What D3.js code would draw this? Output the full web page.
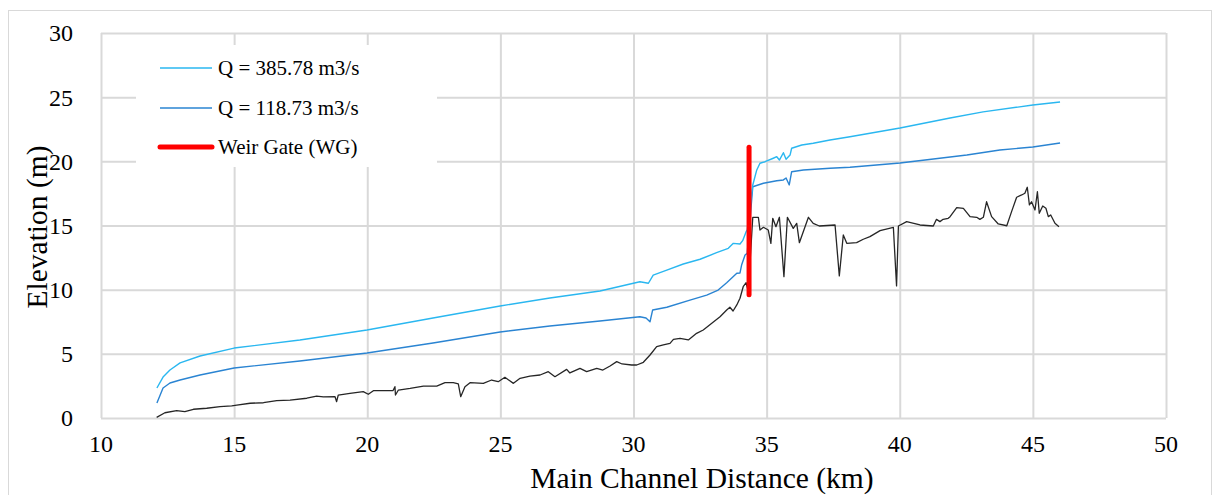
<!DOCTYPE html>
<html>
<head>
<meta charset="utf-8">
<script src="https://cdn.jsdelivr.net/npm/d3@7"></script>
<style>
  html, body { margin: 0; padding: 0; background: #fff; }
  svg { display: block; }
  text { font-family: "Liberation Serif", "Times New Roman", serif; fill: #000; }
</style>
</head>
<body>
<svg id="chart" width="1214" height="495"></svg>
<script>
// ---- data ----
const xTicks = [10, 15, 20, 25, 30, 35, 40, 45, 50];
const yTicks = [0, 5, 10, 15, 20, 25, 30];

const seriesNames = ["Q = 385.78 m3/s", "Q = 118.73 m3/s", "Weir Gate (WG)"];

// Water surface, Q = 385.78 m3/s
const q385Dist = [12.10,12.33,12.59,12.97,13.72,15.00,17.47,19.99,22.47,24.99,26.86,28.74,30.24,30.56,30.74,31.25,31.87,32.50,33.12,33.56,33.75,34.00,34.10,34.23,34.27,
  34.48,34.63,34.75,34.94,35.25,35.38,35.48,35.63,35.73,35.88,35.94,36.32,36.75,37.38,38.13,40.01,41.89,43.13,45.00,46.02];
const q385Elev = [2.34,3.19,3.74,4.29,4.83,5.45,6.08,6.86,7.79,8.73,9.35,9.90,10.62,10.50,11.14,11.53,12.00,12.37,12.88,13.22,13.61,13.56,13.82,14.52,14.65,
  18.16,19.33,19.85,19.97,20.24,20.36,20.10,20.67,20.16,20.49,21.02,21.27,21.41,21.66,21.92,22.60,23.38,23.85,24.39,24.62];

// Water surface, Q = 118.73 m3/s
const q118Dist = [12.10,12.33,12.59,12.97,13.72,15.00,17.47,19.99,22.47,24.99,26.86,28.74,30.24,30.47,30.62,30.72,31.25,32.12,32.75,33.18,33.50,33.88,34.00,34.06,34.19,34.27,
  34.48,34.88,35.38,35.63,35.73,35.85,35.94,36.38,37.38,38.13,40.01,42.52,43.76,45.00,46.02];
const q118Elev = [1.17,2.34,2.73,2.96,3.35,3.90,4.44,5.06,5.84,6.70,7.17,7.56,7.89,7.79,7.50,8.42,8.63,9.19,9.58,9.97,10.54,11.28,11.30,11.92,12.70,12.83,
  18.02,18.29,18.49,18.55,18.70,18.16,19.19,19.32,19.46,19.54,19.87,20.49,20.88,21.12,21.43];

// Channel bed
const bedDist = [12.09,12.40,12.84,13.15,13.47,13.97,14.47,14.91,15.10,15.60,16.10,16.60,17.10,17.73,18.10,18.35,18.79,18.85,18.91,19.35,19.85,20.04,20.23,20.60,20.97,21.04,21.06,21.17,21.61,22.11,22.61,22.92,23.23,23.42,23.51,23.67,23.86,24.36,24.67,24.92,25.17,25.49,25.74,26.11,26.49,26.80,27.05,27.49,27.61,27.99,28.24,28.62,28.85,29.12,29.37,29.57,29.93,30.12,30.37,30.62,30.87,31.12,31.37,31.50,31.75,32.06,32.37,32.62,32.94,33.25,33.50,33.62,33.74,33.88,34.00,34.12,34.23,34.31,
  34.48,34.69,34.75,34.88,35.06,35.16,35.23,35.35,35.48,35.65,35.78,36.00,36.13,36.23,36.57,36.75,36.98,37.57,37.73,37.88,38.01,38.38,38.63,38.88,39.26,39.76,39.88,39.95,40.26,40.76,41.26,41.38,41.51,41.63,41.82,41.89,42.14,42.39,42.64,42.89,43.01,43.14,43.26,43.45,43.70,44.02,44.20,44.39,44.58,44.70,44.79,44.87,44.95,45.08,45.17,45.24,45.37,45.49,45.58,45.67,45.83,45.98];
const bedElev = [0.05,0.41,0.57,0.49,0.68,0.76,0.88,0.94,1.01,1.15,1.19,1.35,1.40,1.54,1.71,1.64,1.66,1.27,1.79,1.92,2.05,1.85,2.13,2.13,2.14,2.44,1.79,2.18,2.31,2.49,2.49,2.75,2.75,2.65,1.66,2.44,2.75,2.70,2.96,2.83,3.17,2.70,3.09,3.27,3.35,3.61,3.22,3.79,3.51,3.87,3.61,3.87,3.74,4.05,4.39,4.21,4.13,4.13,4.34,4.91,5.56,5.69,5.82,6.13,6.21,6.08,6.60,6.86,7.38,7.89,8.42,8.63,8.34,8.81,9.33,10.23,10.54,9.84,
  15.64,15.64,14.65,14.86,14.65,13.61,15.56,14.91,15.64,11.01,15.64,14.78,15.17,13.66,15.64,15.17,14.96,15.04,11.07,14.26,13.61,13.66,13.93,14.13,14.60,14.86,10.29,14.96,15.30,15.04,14.96,15.48,15.30,15.48,15.56,15.69,16.39,16.34,15.69,15.64,15.48,15.64,16.85,15.69,15.12,14.98,16.08,17.20,17.38,17.51,17.98,16.60,16.85,16.21,17.63,15.95,16.52,16.34,15.69,15.82,15.17,14.91];

// Weir gate
const weirDist = [34.34, 34.34];
const weirElev = [9.6, 21.1];

// ---- layout ----
const svg = d3.select("#chart");
const plot = { left: 101, right: 1166, top: 33, bottom: 418 };
const x = d3.scaleLinear().domain([10, 50]).range([plot.left, plot.right]);
const y = d3.scaleLinear().domain([0, 30]).range([plot.bottom, plot.top]);
const gridColor = "#d9d9d9";

// outer chart border
svg.append("rect").attr("x", 8.5).attr("y", 10.5).attr("width", 1203).attr("height", 500)
  .attr("fill", "none").attr("stroke", gridColor).attr("stroke-width", 1);

// grid lines via axes
const gx = svg.append("g").attr("transform", `translate(0,${plot.bottom})`)
  .call(d3.axisBottom(x).tickValues(xTicks).tickSize(-(plot.bottom - plot.top)).tickFormat(""));
const gy = svg.append("g").attr("transform", `translate(${plot.left},0)`)
  .call(d3.axisLeft(y).tickValues(yTicks).tickSize(-(plot.right - plot.left)).tickFormat(""));
[gx, gy].forEach(g => {
  g.select(".domain").remove();
  g.selectAll(".tick line").attr("stroke", gridColor).attr("stroke-width", 2);
});

// tick labels
svg.append("g").selectAll("text").data(xTicks).join("text")
  .attr("x", d => x(d)).attr("y", 452)
  .attr("text-anchor", "middle").attr("font-size", 24).text(d => d);
svg.append("g").selectAll("text").data(yTicks).join("text")
  .attr("x", 73).attr("y", d => y(d)).attr("dy", "0.35em")
  .attr("text-anchor", "end").attr("font-size", 24).text(d => d);

// axis titles
svg.append("text").attr("x", 702).attr("y", 488).attr("text-anchor", "middle")
  .attr("font-size", 29.5).text("Main Channel Distance (km)");
svg.append("text").attr("transform", "translate(47,227) rotate(-90)").attr("text-anchor", "middle")
  .attr("font-size", 29.5).text("Elevation (m)");

// lines
const line = d3.line().x(d => x(d[0])).y(d => y(d[1]));
const zip = (a, b) => a.map((v, i) => [v, b[i]]);

svg.append("path").datum(zip(bedDist, bedElev)).attr("d", line)
  .attr("fill", "none").attr("stroke", "#262626").attr("stroke-width", 1.3).attr("stroke-linejoin", "round");
svg.append("path").datum(zip(q118Dist, q118Elev)).attr("d", line)
  .attr("fill", "none").attr("stroke", "#2a84d2").attr("stroke-width", 1.4).attr("stroke-linejoin", "round");
svg.append("path").datum(zip(q385Dist, q385Elev)).attr("d", line)
  .attr("fill", "none").attr("stroke", "#2ab7f0").attr("stroke-width", 1.4).attr("stroke-linejoin", "round");
svg.append("path").datum(zip(weirDist, weirElev)).attr("d", line)
  .attr("fill", "none").attr("stroke", "#ff0000").attr("stroke-width", 5).attr("stroke-linecap", "round");

// legend
const legend = svg.append("g");
legend.append("rect").attr("x", 136).attr("y", 45).attr("width", 301).attr("height", 122).attr("fill", "#fff");
const legColors = ["#2ab7f0", "#2a84d2", "#ff0000"];
const legWidths = [1.4, 1.4, 5];
const legY = [68, 108, 147];
seriesNames.forEach((name, i) => {
  legend.append("line").attr("x1", 160).attr("x2", 212).attr("y1", legY[i]).attr("y2", legY[i])
    .attr("stroke", legColors[i]).attr("stroke-width", legWidths[i]).attr("stroke-linecap", i === 2 ? "round" : "butt");
  legend.append("text").attr("x", 218).attr("y", legY[i]).attr("dy", "0.35em")
    .attr("font-size", 21).text(name);
});
</script>
</body>
</html>
